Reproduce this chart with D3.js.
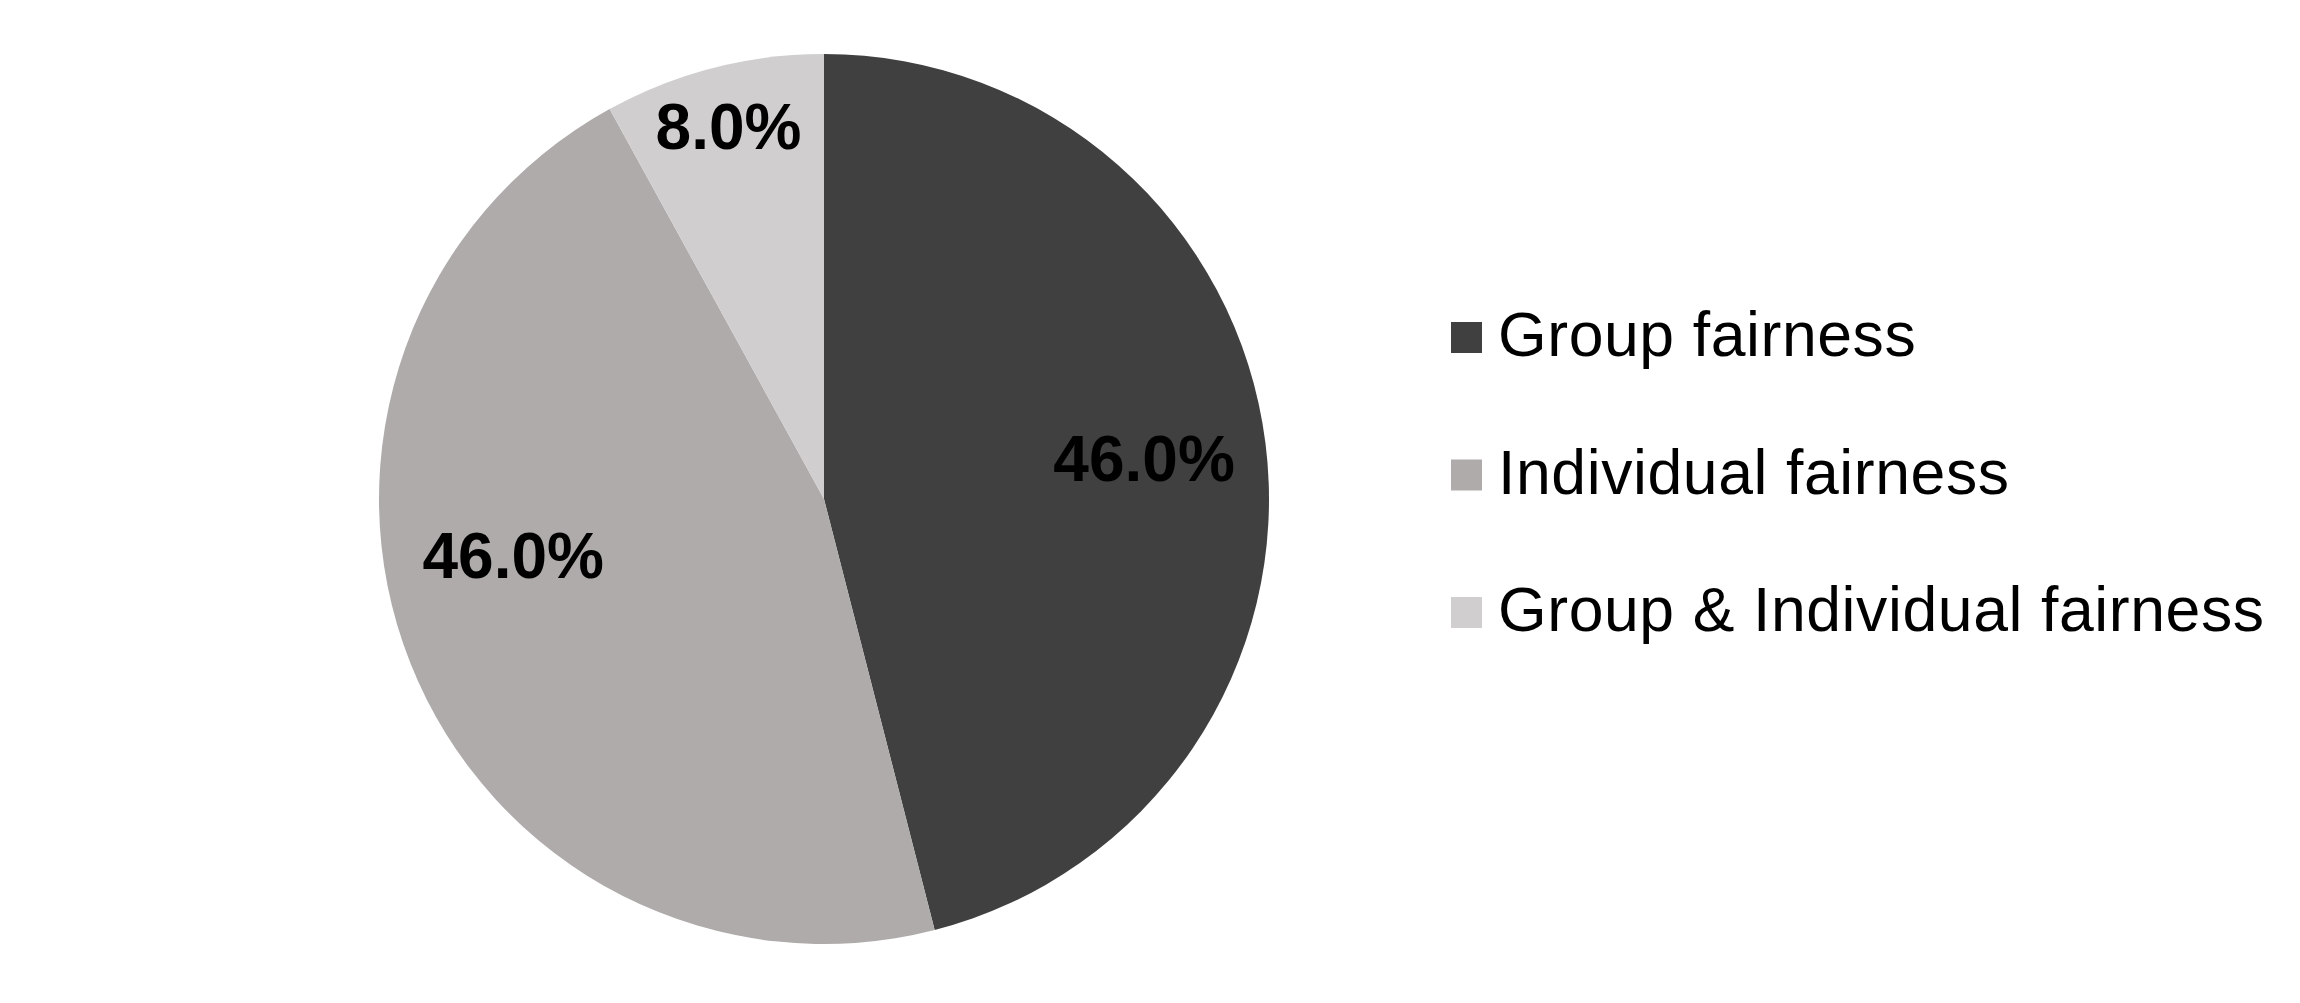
<!DOCTYPE html>
<html>
<head>
<meta charset="utf-8">
<script src="https://cdn.jsdelivr.net/npm/d3@7"></script>
<style>
  html, body { margin: 0; padding: 0; background: #ffffff; }
  svg { display: block; }
</style>
</head>
<body>
<svg id="chart" width="2300" height="1003"></svg>
<script>
// ---- data ----
const categories = ["Group fairness", "Individual fairness", "Group & Individual fairness"];
const values = [46.0, 46.0, 8.0];
const colors = ["#404040", "#aeabaa", "#d0cecf"];

// ---- layout ----
const W = 2300, H = 1003;
const cx = 824, cy = 499, R = 445;
// label placement relative to each slice (fraction of radius, angular shift in degrees)
const labelPlacement = [
  { rf: 0.725, shift: 0 },
  { rf: 0.71, shift: 11.2 },
  { rf: 0.863, shift: 0 }
];

const svg = d3.select("#chart");
const total = d3.sum(values);
const data = categories.map((c, i) => ({ name: c, value: values[i], color: colors[i] }));

const pie = d3.pie().sort(null).value(d => d.value);
const arcs = pie(data);
const arc = d3.arc().innerRadius(0).outerRadius(R);

const g = svg.append("g").attr("transform", `translate(${cx},${cy})`);

g.selectAll("path.slice")
  .data(arcs)
  .join("path")
  .attr("class", "slice")
  .attr("d", arc)
  .attr("fill", d => d.data.color);

const fmt = d3.format(".1%");
g.selectAll("text.lbl")
  .data(arcs)
  .join("text")
  .attr("class", "lbl")
  .attr("transform", (d, i) => {
    const p = labelPlacement[i];
    const mid = (d.startAngle + d.endAngle) / 2 + p.shift * Math.PI / 180;
    const r = p.rf * R;
    return `translate(${r * Math.sin(mid)},${-r * Math.cos(mid)})`;
  })
  .attr("text-anchor", "middle")
  .attr("dy", "0.35em")
  .attr("font-family", "'Liberation Sans', Arial, sans-serif")
  .attr("font-weight", "bold")
  .attr("font-size", 64)
  .attr("fill", "#000")
  .text(d => fmt(d.data.value / total));

// ---- legend ----
const legX = 1451, legY0 = 322, legStep = 137.5, sq = 31;
const legend = svg.append("g");
const items = legend.selectAll("g.item")
  .data(data)
  .join("g")
  .attr("class", "item")
  .attr("transform", (d, i) => `translate(${legX},${legY0 + i * legStep})`);

items.append("rect")
  .attr("width", sq)
  .attr("height", sq)
  .attr("fill", d => d.color);

items.append("text")
  .attr("x", 47)
  .attr("y", sq + 3)
  .attr("font-family", "'Liberation Sans', Arial, sans-serif")
  .attr("font-size", 62.5)
  .attr("letter-spacing", "0.6px")
  .attr("fill", "#000")
  .text(d => d.name);
</script>
</body>
</html>
